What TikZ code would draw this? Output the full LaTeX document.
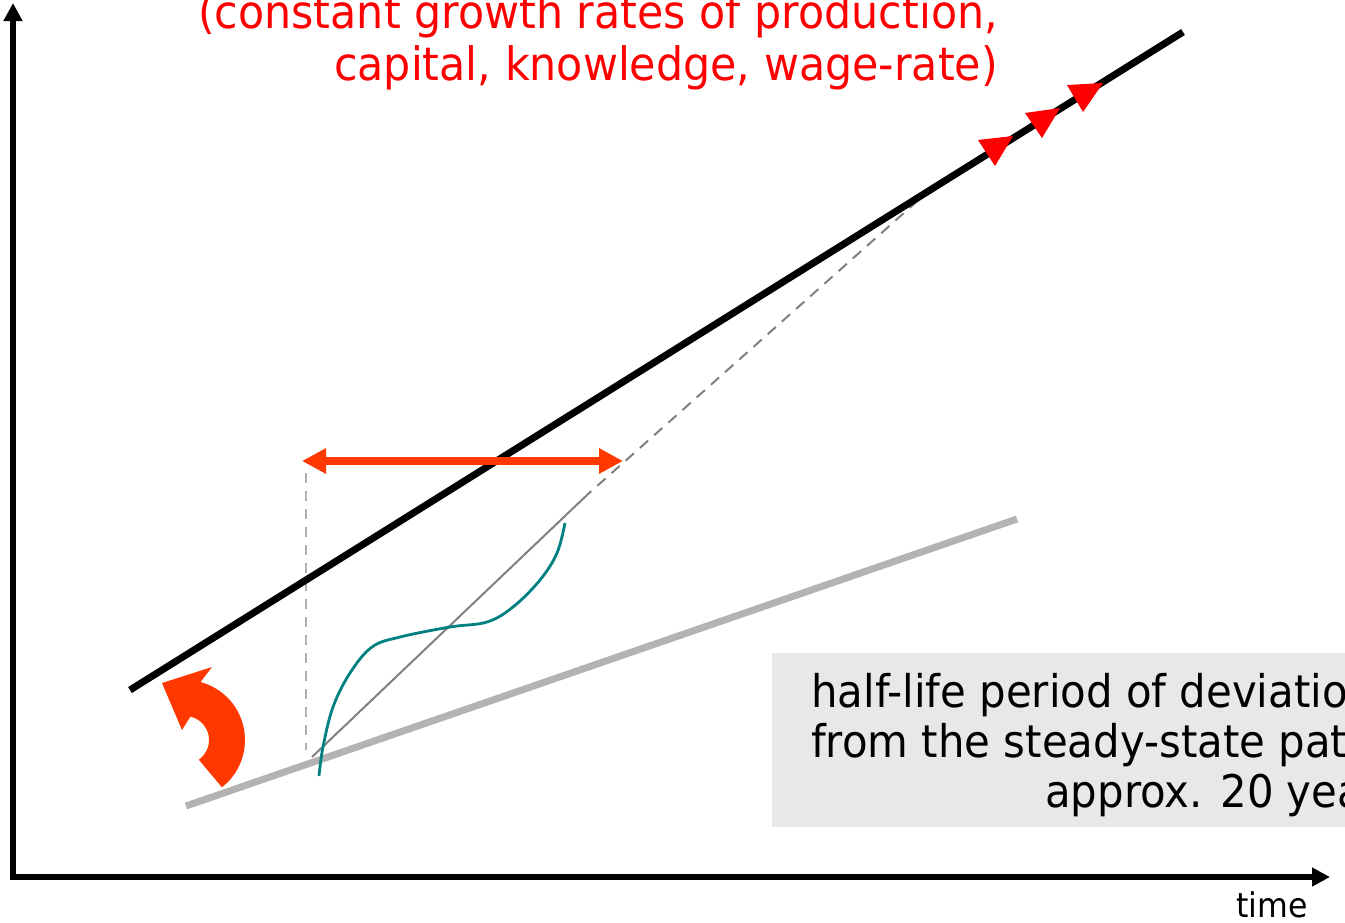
\documentclass[tikz,border=0pt]{standalone}
\usepackage{fontspec}
\setmainfont{DejaVu Sans}[FakeStretch=0.93]
\usetikzlibrary{arrows.meta}
\definecolor{redtext}{RGB}{255,0,0}
\definecolor{orangered}{RGB}{255,56,0}
\definecolor{tealc}{RGB}{0,128,128}
\definecolor{boxgray}{RGB}{232,232,232}
\definecolor{thickgray}{RGB}{179,179,179}
\definecolor{thingray}{RGB}{128,128,128}
\definecolor{vgray}{RGB}{176,176,176}
\begin{document}
\begin{tikzpicture}[x=1pt,y=-1pt,
  axis/.style={line width=6pt, {Triangle[length=18pt,width=18pt]}-{Triangle[length=18pt,width=18pt]}},
  steady/.style={line width=7pt, black},
  oldpath/.style={line width=7pt, thickgray},
  trend/.style={line width=2pt, thingray},
  trenddash/.style={line width=2pt, thingray, dash pattern=on 11pt off 8pt},
  vdash/.style={line width=2.5pt, vgray, dash pattern=on 10pt off 8pt},
  dblarrow/.style={line width=8pt, orangered, {Triangle[length=24pt,width=24pt]}-{Triangle[length=24pt,width=24pt]}},
  marker/.style={fill=redtext},
  boxtext/.style={anchor=base west, inner sep=0pt, font=\fontsize{45}{50}\selectfont},
]
\useasboundingbox (0,0) rectangle (1345,922);
\clip (0,0) rectangle (1345,922);

% text box
\fill[boxgray] (772,653) rectangle (1400,827);
\node[boxtext] (t1) at (811,707) {half-life period of deviation};
\node[boxtext] (t2) at (811,757) {from the steady-state path};
\node[boxtext] (t3) at (1045,807) {approx. 20 years};

% axes
\coordinate (ytop) at (13,3);
\coordinate (orig) at (13,877);
\coordinate (xend) at (1330,877);
\draw[axis] (ytop) -- (orig) -- (xend);
\node[anchor=base, inner sep=0pt, font=\fontsize{34}{40}\selectfont] (time) at (1272,917) {time};

% old (lower) path
\coordinate (g1) at (186,806);
\coordinate (g2) at (1017,519);
\draw[oldpath] (g1) -- (g2);

% transition trend line
\coordinate (tr1) at (312,757);
\coordinate (tr2) at (587,495);
\coordinate (tr3) at (932,188);
\draw[trend] (tr1) -- (tr2);
\draw[trenddash] (tr3) -- (tr2);

% vertical dashed
\coordinate (v1) at (306,473);
\coordinate (v2) at (306,750);
\draw[vdash] (v1) -- (v2);

% steady-state path
\coordinate (s1) at (130,690);
\coordinate (s2) at (1183,32);
\draw[steady] (s1) -- (s2);

% teal adjustment curve
\draw[tealc, line width=2.8pt] plot[smooth, tension=0.6] coordinates {(319,776) (323,747) (333,707) (350,673) (372,647) (400,637) (450,627) (487,622) (513,607) (540,580) (557,553) (565,523)};

% double arrow
\coordinate (d1) at (302,461);
\coordinate (d2) at (623,461);
\draw[dblarrow] (d1) -- (d2);

% red markers on steady path
\fill[marker] (978,140) -- (1013,136) -- (995,166) -- cycle;
\fill[marker] (1025,113) -- (1060,108) -- (1042,138) -- cycle;
\fill[marker] (1067,85) -- (1103,83) -- (1083,112) -- cycle;

% curved block arrow
\fill[orangered] plot[domain=-52:75, samples=40] ({185+60*cos(\x)},{740-60*sin(\x)}) -- (212,667) -- (162,683) -- (182,730) -- plot[domain=77:-55, samples=40] ({185+24*cos(\x)},{740-24*sin(\x)}) -- cycle;

% red heading
\node[anchor=base east, align=right, inner sep=0pt, text=redtext, font=\fontsize{46}{52}\selectfont] (head) at (998,80) {(constant growth rates of production,\\capital, knowledge, wage-rate)};
\end{tikzpicture}
\end{document}
